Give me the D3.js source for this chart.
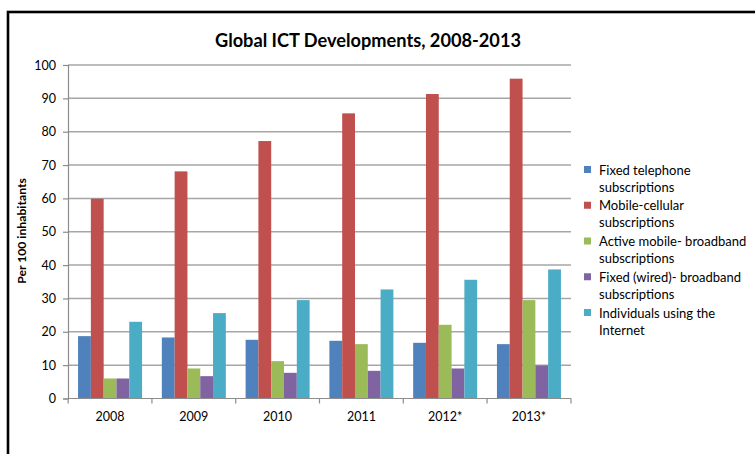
<!DOCTYPE html>
<html><head><meta charset="utf-8">
<script src="https://cdn.jsdelivr.net/npm/d3@7"></script>
<style>body{margin:0;background:#fff}svg{display:block}</style>
</head><body>
<script>
const categories = ["2008","2009","2010","2011","2012*","2013*"];
const seriesNames = ["Fixed telephone subscriptions","Mobile-cellular subscriptions","Active mobile- broadband subscriptions","Fixed (wired)- broadband subscriptions","Individuals using the Internet"];
const legendLines = [["Fixed telephone","subscriptions"],["Mobile-cellular","subscriptions"],["Active mobile- broadband","subscriptions"],["Fixed (wired)- broadband","subscriptions"],["Individuals using the","Internet"]];
const fixedTelephone = [18.7,18.3,17.6,17.3,16.7,16.3];
const mobileCellular = [59.9,68.1,77.2,85.5,91.3,95.9];
const mobileBroadband = [6.0,9.0,11.2,16.3,22.1,29.5];
const fixedBroadband = [6.0,6.7,7.7,8.3,9.0,9.9];
const internetUsers = [23.0,25.6,29.5,32.7,35.6,38.7];
const seriesValues = [fixedTelephone,mobileCellular,mobileBroadband,fixedBroadband,internetUsers];
const colors = ["#4F81BD","#C0504D","#9BBB59","#8064A2","#4BACC6"];
const yTicks = [0,10,20,30,40,50,60,70,80,90,100];

(function(){
const W=755,H=454;
const font="Lato, 'Open Sans', sans-serif";
const svg=d3.select("body").append("svg").attr("width",W).attr("height",H);
svg.append("rect").attr("x",8).attr("y",12).attr("width",800).attr("height",500)
  .attr("fill","#fff").attr("stroke","#000").attr("stroke-width",2.6);

const pL=68,pR=571,pT=65,pB=398.5;
const x=d3.scaleBand().domain(categories).range([pL,pR]).paddingInner(0.236).paddingOuter(0.12);
const xi=d3.scaleBand().domain(d3.range(seriesNames.length)).range([0,x.bandwidth()]);
const y=d3.scaleLinear().domain([0,100]).range([pB,pT]);

svg.append("g").selectAll("line").data(yTicks.filter(d=>d>0)).join("line")
  .attr("x1",pL).attr("x2",pR).attr("y1",d=>y(d)).attr("y2",d=>y(d))
  .attr("stroke","#a6a6a6").attr("stroke-width",1.5);

const groups=svg.append("g").selectAll("g").data(categories).join("g")
  .attr("transform",c=>`translate(${x(c)},0)`);
groups.selectAll("rect").data((c,ci)=>seriesValues.map((s,si)=>({si,v:s[ci]}))).join("rect")
  .attr("x",d=>xi(d.si)).attr("width",xi.bandwidth())
  .attr("y",d=>y(d.v)).attr("height",d=>y(0)-y(d.v))
  .attr("fill",d=>colors[d.si]);

const yAxis=svg.append("g").attr("transform",`translate(${pL},0)`)
  .call(d3.axisLeft(y).tickValues(yTicks).tickSize(5).tickPadding(7));
yAxis.select(".domain").attr("stroke","#8c8c8c").attr("stroke-width",1.2);
yAxis.selectAll(".tick line").attr("stroke","#8c8c8c").attr("stroke-width",1.2);
yAxis.selectAll("text").attr("font-family",font).attr("font-size",12.5).attr("fill","#000");

const xAxis=svg.append("g").attr("transform",`translate(0,${pB})`)
  .call(d3.axisBottom(x).tickSize(0).tickPadding(14));
xAxis.select(".domain").attr("stroke","#8c8c8c").attr("stroke-width",1.2).attr("d",`M${pL},0H${pR}`);
xAxis.selectAll("text").attr("font-family",font).attr("font-size",12.5).attr("fill","#000");
const bounds=categories.map(c=>x(c)-x.step()*x.paddingInner()/2).concat([pR]);
xAxis.append("g").selectAll("line").data(bounds).join("line")
  .attr("x1",d=>d).attr("x2",d=>d).attr("y1",0).attr("y2",5)
  .attr("stroke","#8c8c8c").attr("stroke-width",1.2);

svg.append("text").attr("x",368).attr("y",47).attr("text-anchor","middle")
  .attr("font-family",font).attr("font-weight","bold").attr("font-size",18.2).attr("fill","#000")
  .text("Global ICT Developments, 2008-2013");

svg.append("text").attr("transform","translate(26,231) rotate(-90)").attr("text-anchor","middle")
  .attr("font-family",font).attr("font-weight","bold").attr("font-size",12.2).attr("fill","#000")
  .text("Per 100 inhabitants");

const lg=svg.append("g").selectAll("g").data(seriesNames).join("g")
  .attr("transform",(d,i)=>`translate(584,${170+i*35.75})`);
lg.append("rect").attr("x",0).attr("y",-4).attr("width",7).attr("height",7).attr("fill",(d,i)=>colors[i]);
lg.each(function(d,i){
  const t=d3.select(this).append("text").attr("font-family",font).attr("font-size",13).attr("fill","#000");
  legendLines[i].forEach((ln,k)=>t.append("tspan").attr("x",15).attr("y",4.5+k*17).text(ln));
});
})();
</script>
</body></html>
